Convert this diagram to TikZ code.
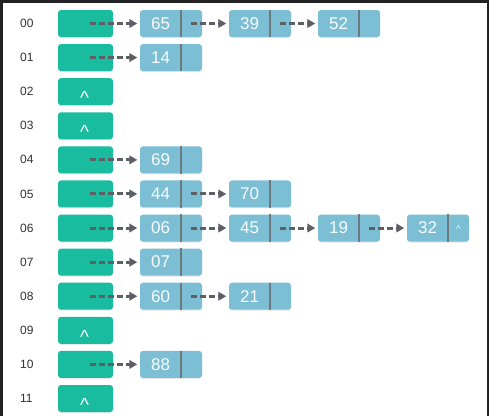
\documentclass[tikz,border=0pt]{standalone}
\usepackage{fontspec}
\setmainfont{Liberation Sans}
\usetikzlibrary{arrows.meta,shadows}

\definecolor{slotfill}{RGB}{26,188,160}
\definecolor{cellfill}{RGB}{124,190,212}
\definecolor{cellsplit}{RGB}{108,122,128}
\definecolor{linkgray}{RGB}{92,95,100}
\definecolor{idxgray}{RGB}{50,50,50}
\definecolor{framegray}{RGB}{34,34,36}

\tikzset{
  idx/.style={anchor=west, inner sep=0pt, text=idxgray, font=\fontsize{12}{14}\selectfont},
  slotbox/.style={fill=slotfill, rounded corners=3pt, minimum width=55pt, minimum height=27pt,
    inner sep=0pt, drop shadow={shadow xshift=0pt, shadow yshift=-1pt, opacity=0.18}},
  cellbox/.style={fill=cellfill, rounded corners=3pt, minimum width=62pt, minimum height=27pt,
    inner sep=0pt, drop shadow={shadow xshift=0pt, shadow yshift=-1pt, opacity=0.18}},
  val/.style={inner sep=0pt, text=white!94!cellfill, font=\fontsize{17}{19}\selectfont},
  nullmark/.style={anchor=base, inner sep=0pt, text=white, font=\fontsize{19}{20}\selectfont},
  splitline/.style={draw=cellsplit, line width=1.4pt},
  link/.style={draw=linkgray, line width=3pt, dash pattern=on 6pt off 3pt,
    -{Triangle[length=8pt,width=8.5pt]}, shorten >=2.5pt},
}

% one list element: name, column, row, value
\newcommand\listcell[4]{%
  \node[cellbox] (#1) at (171+89*#2, 23.5+34.09*#3) {};
  \node[val] (#1v) at ([xshift=-10.5pt]#1.center) {#4};
  \draw[splitline] ([xshift=10pt]#1.north) -- ([xshift=10pt]#1.south);
}
% pointer from a list element to the next one
\newcommand\listlink[2]{\draw[link] ([xshift=20pt]#1.center) -- (#2.west);}
% pointer from a bucket to its first element
\newcommand\headlink[2]{\draw[link] ([xshift=4.5pt]#1.center) -- (#2.west);}

\begin{document}
\begin{tikzpicture}[x=1pt,y=-1pt]
\useasboundingbox (0,0) rectangle (489,416);
\fill[white] (0,0) rectangle (489,416);
% window edge
\fill[framegray] (0,0) rectangle (489,2.5);
\fill[framegray] (0,0) rectangle (2.5,416);
\fill[framegray] (486.5,0) rectangle (489,416);

% buckets
\foreach \lbl [count=\i from 0] in {00,01,02,03,04,05,06,07,08,09,10,11}{
  \node[idx] (l\lbl) at (20, 23.5+34.09*\i) {\lbl};
  \node[slotbox] (s\lbl) at (85.5, 23.5+34.09*\i) {};
}

% empty buckets
\foreach \b in {02,03,09,11}{
  \node[nullmark] (z\b) at ([xshift=-1pt,yshift=-13pt]s\b.center) {\textasciicircum};
}

% chains
\listcell{a00}{0}{0}{65}\listcell{b00}{1}{0}{39}\listcell{c00}{2}{0}{52}
\headlink{s00}{a00}\listlink{a00}{b00}\listlink{b00}{c00}

\listcell{a01}{0}{1}{14}
\headlink{s01}{a01}

\listcell{a04}{0}{4}{69}
\headlink{s04}{a04}

\listcell{a05}{0}{5}{44}\listcell{b05}{1}{5}{70}
\headlink{s05}{a05}\listlink{a05}{b05}

\listcell{a06}{0}{6}{06}\listcell{b06}{1}{6}{45}\listcell{c06}{2}{6}{19}\listcell{d06}{3}{6}{32}
\headlink{s06}{a06}\listlink{a06}{b06}\listlink{b06}{c06}\listlink{c06}{d06}
\node[inner sep=0pt, text=white!94!cellfill, font=\fontsize{10}{12}\selectfont] (e06)
  at ([xshift=20.5pt,yshift=-1pt]d06.center) {\textasciicircum};

\listcell{a07}{0}{7}{07}
\headlink{s07}{a07}

\listcell{a08}{0}{8}{60}\listcell{b08}{1}{8}{21}
\headlink{s08}{a08}\listlink{a08}{b08}

\listcell{a10}{0}{10}{88}
\headlink{s10}{a10}
\end{tikzpicture}
\end{document}
